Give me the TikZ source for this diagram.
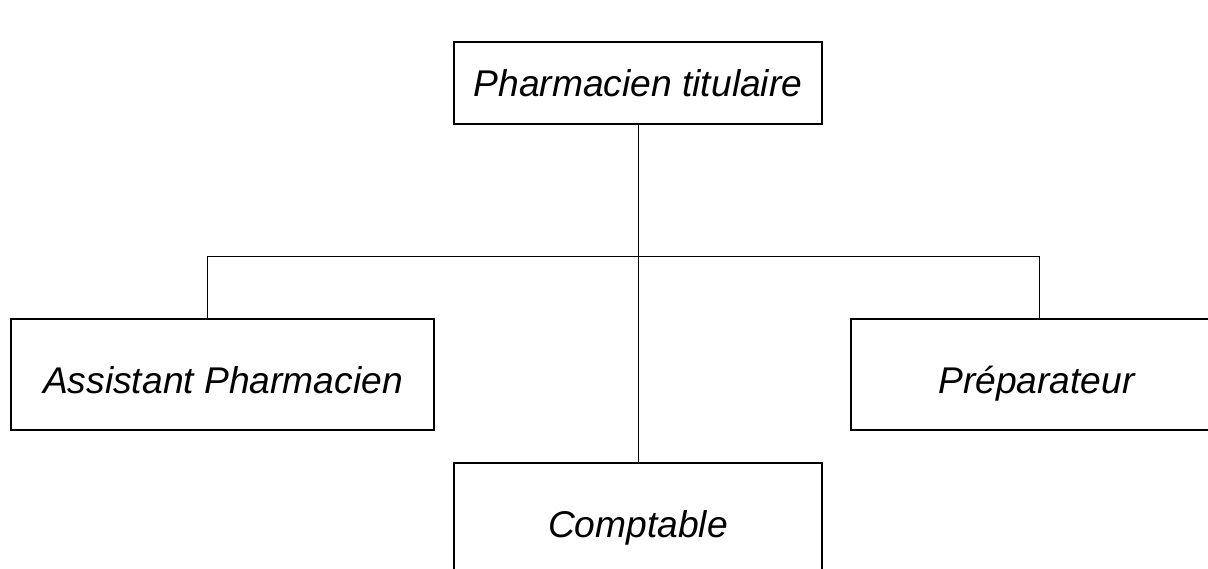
\documentclass[tikz,border=0pt]{standalone}
\usepackage{fontspec}
\setmainfont{Liberation Sans}
\begin{document}
\begin{tikzpicture}[x=1pt,y=-1pt,
  orgbox/.style={draw=black,line width=1.6pt,fill=white,inner sep=0pt},
  lbl/.style={anchor=base,inner sep=0pt,font=\fontsize{37.2}{40}\selectfont\itshape},
  conn/.style={draw=black,line width=1pt}]
\useasboundingbox (0,0) rectangle (1208,568);
\clip (0,0) rectangle (1208,568);
% boxes
\node[orgbox,minimum width=368pt,minimum height=82pt] (top) at (638,83) {};
\node[orgbox,minimum width=423pt,minimum height=111pt] (left) at (222.5,374.5) {};
\node[orgbox,minimum width=371pt,minimum height=111pt] (right) at (1036.5,374.5) {};
\node[orgbox,minimum width=368pt,minimum height=140pt] (bot) at (638,533) {};
% labels
\node[lbl] (ttop) at (638,96) {Pharmacien titulaire};
\node[lbl] (tleft) at (223,393) {Assistant Pharmacien};
\node[lbl] (tright) at (1036.5,393) {Préparateur};
\node[lbl] (tbot) at (638,537) {Comptable};
% connectors
\coordinate (jl) at (207,256);
\coordinate (jr) at (1039,256);
\draw[conn] (top.south) -- (bot.north);
\draw[conn] (jl) -- (jr);
\draw[conn] (jl) -- (jl |- left.north);
\draw[conn] (jr) -- (jr |- right.north);
\end{tikzpicture}
\end{document}
